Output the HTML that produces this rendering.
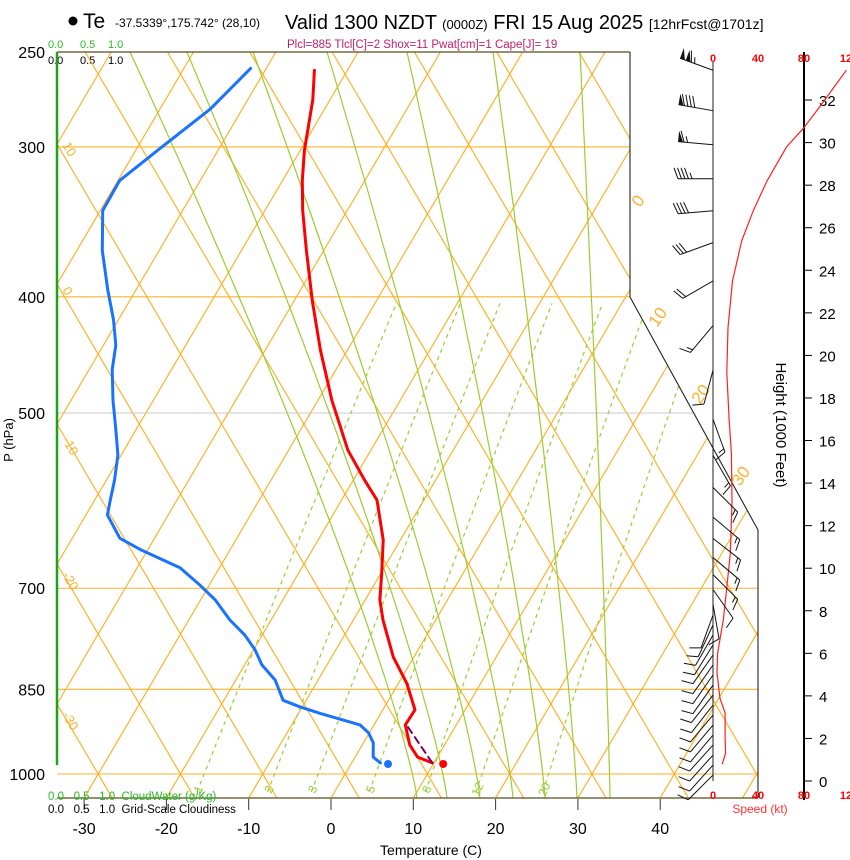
<!DOCTYPE html>
<html><head><meta charset="utf-8"><style>
html,body{margin:0;padding:0;background:#fff;}
svg{display:block;font-family:"Liberation Sans",sans-serif;}
</style></head><body>
<svg id="chart" width="850" height="860" viewBox="0 0 850 860" xmlns="http://www.w3.org/2000/svg">
<defs><clipPath id="plotclip"><polygon points="57,52 630,52 630,297 758,530 758,798 57,798"/></clipPath></defs>
<g id="header">
<circle cx="73" cy="21" r="4.5" fill="#000"/>
<text x="83" y="28" font-size="21">Te</text>
<text x="115" y="27" font-size="12">-37.5339°,175.742° (28,10)</text>
<text x="285" y="29" font-size="20">Valid 1300 NZDT <tspan font-size="13">(0000Z)</tspan> FRI 15 Aug 2025 <tspan font-size="14">[12hrFcst@1701z]</tspan></text>
<text x="287" y="48" font-size="11.5" fill="#c0206a">Plcl=885 Tlcl[C]=2 Shox=11 Pwat[cm]=1 Cape[J]= 19</text>
<text x="48" y="48" font-size="11" fill="#22bb22">0.0<tspan x="80">0.5</tspan><tspan x="108">1.0</tspan></text>
<text x="48" y="64" font-size="11" fill="#000">0.0<tspan x="80">0.5</tspan><tspan x="108">1.0</tspan></text>
</g>
<g id="grid" clip-path="url(#plotclip)"></g>
<g id="axes"></g>
<g id="profiles" clip-path="url(#plotclip)"></g>
<g id="wind"></g>
<script>
// ---- sounding data (pressure hPa, temperature C) ----
const tempP = [259,274,302,320,339,366,403,443,488,537,569,591,638,680,716,744,799,840,884,910,946,968,979];
const tempT = [-54.0,-52.1,-49.5,-47.6,-45.4,-42.1,-37.8,-33.3,-28.3,-22.8,-18.6,-15.7,-12.1,-9.9,-8.2,-6.4,-2.5,1.0,3.9,3.8,5.8,7.6,9.8];
const dewP = [258,279,301,320,339,366,395,418,439,460,488,517,542,569,591,608,636,650,673,696,716,744,766,788,811,835,868,879,890,910,924,942,968,979];
const dewT = [-61.9,-63.9,-67.2,-69.8,-69.7,-66.9,-63.4,-60.6,-58.5,-57.2,-54.9,-52.4,-50.4,-49.0,-48.1,-47.4,-44.2,-40.9,-34.8,-31.1,-28.2,-25.0,-22.1,-19.8,-17.9,-15.2,-12.8,-10.3,-7.4,-1.7,-0.1,1.2,2.2,3.5];
const surfaceP = [981];
const surfaceT = [11.2];
const surfaceTd = [4.5];
const parcelP = [914,979];
const parcelT = [4.3,9.8];
// ---- wind speed profile (height kft, speed kt) ----
const spdH = [33.4,31.7,30.7,29.8,28.2,26.8,25.4,23.5,21.3,19.2,17.0,15.4,13.1,10.7,9.1,7.6,6.0,5.1,3.9,3.2,2.1,1.3,0.8];
const spdV = [116,93,79,64,47,35,25,17,13,12,14,16,16.5,15,12,9,4,3.5,6,10.5,10.5,11,8];
// ---- wind barbs (height kft, direction deg, speed kt) ----
const barbH = [33.4,31.5,29.9,28.3,26.8,25.3,23.5,21.4,19.3,17.0,15.3,13.8,12.4,11.4,10.5,9.7,9.0,8.3,7.8,7.33,6.86,6.39,5.92,5.45,4.98,4.51,4.04,3.57,3.10,2.63,2.16,1.69,1.22,0.75,0.28];
const barbDir = [290,280,275,270,265,250,240,220,195,160,150,135,130,128,130,135,145,170,200,205,210,212,215,215,215,215,218,218,220,220,220,222,222,222,225];
const barbSpd = [115,90,65,45,38,28,18,13,12,14,16,16,16,16,15,13,10,8,8,10,12,12,12,12,10,10,10,10,12,12,12,12,12,12,12];
// ---- axes ----
const pLabels = [250,300,400,500,700,850,1000];
const tTicks = [-30,-20,-10,0,10,20,30,40];
const hTicks = [0,2,4,6,8,10,12,14,16,18,20,22,24,26,28,30,32];
const mixRatios = [1,2,3,5,8,12,20];

const NS='http://www.w3.org/2000/svg';
function yP(p){return 774-520.8*Math.log(1000/p);}
function xT(T,p){return 331+8.23*T+0.588*(798-yP(p));}
function hY(h){return 781-21.28*h;}
function sX(s){return 713+1.15*s;}
function mk(tag,attrs,parent){const e=document.createElementNS(NS,tag);for(const k in attrs)e.setAttribute(k,attrs[k]);parent.appendChild(e);return e;}
const grid=document.getElementById('grid'), axes=document.getElementById('axes'), prof=document.getElementById('profiles'), wind=document.getElementById('wind');
const ORANGE='#fdb22c', GREEN='#9acd32';

// isotherms
for(let T=-120;T<=60;T+=10){
  const x0=331+8.23*T;
  const l=mk('line',{x1:x0,y1:798,x2:x0+0.588*746,y2:52,stroke:ORANGE,'stroke-width':1.2},grid);
  
  
}
// dry adiabats (straight family)
for(let k=-6;k<=16;k++){
  const xk=345.1+82.3*k;
  const l=mk('line',{x1:xk+0.588*24,y1:798,x2:xk-0.588*722,y2:52,stroke:ORANGE,'stroke-width':1.2},grid);
  
  
}
// pressure lines
pLabels.forEach(p=>{
  if(p===250)return;
  const y=yP(p);
  const x2 = p>=500 ? 758 : 630;
  const l=mk('line',{x1:57,y1:y,x2:x2,y2:y,stroke:p===500?'#c8c8c8':ORANGE,'stroke-width':1.1},grid);
  
  
});
// moist adiabats (background guide curves)
const moistTop=[130,187,253,327,407,493,580];
const moistBot=[417,447,480,513,545,577,610];
moistTop.forEach((xt,i)=>{
  const xb=moistBot[i], pts=[];
  for(let y=798;y>=52;y-=6){
    const t=(798-y)/746;
    pts.push((xb-(xb-xt)*Math.pow(t,1.2)).toFixed(1)+','+y);
  }
  pts.push(xt+',52');
  const l=mk('polyline',{points:pts.join(' '),fill:'none',stroke:GREEN,'stroke-width':1.2},grid);
  
  
});
// mixing ratio lines
mixRatios.forEach(w=>{
  const pts=[];
  for(let p=1035;p>=400;p-=10){
    const e=w*p/(622+w), L=Math.log(e/6.112), Td=243.5*L/(17.67-L);
    pts.push(xT(Td,p).toFixed(1)+','+yP(p).toFixed(1));
  }
  const l=mk('polyline',{points:pts.join(' '),fill:'none',stroke:GREEN,'stroke-width':1.2,'stroke-dasharray':'4,4'},grid);
  
  
  const e=w*1040/(622+w), L=Math.log(e/6.112), Td=243.5*L/(17.67-L);
  const lx=xT(Td,1040)+6, ly=791;
  const t=mk('text',{x:lx,y:ly,'font-size':12,fill:GREEN,'text-anchor':'middle',transform:'rotate(-65 '+lx+' '+ly+')'},grid);
  t.textContent=w;
  
  
});

// borders
function line(x1,y1,x2,y2,st,sw,name,par){const l=mk('line',{x1,y1,x2,y2,stroke:st,'stroke-width':sw},par||axes);return l;}
line(57,52,630,52,'#5a4a1a',1.3,'plot-top-border');
line(57,798,758,798,'#5a4a1a',1.3,'x-axis-line');
const bnd=mk('polyline',{points:'630,52 630,297 758,530 758,798',fill:'none',stroke:'#222','stroke-width':1.1},axes);


line(57,52,57,765,'#1aa51a',2.5,'cloudwater-bar');

// pressure labels
pLabels.forEach(p=>{
  const t=mk('text',{x:45,y:yP(p)+6,'font-size':16,'text-anchor':'end'},axes);
  t.textContent=p;
  
  
});
const ylab=mk('text',{x:13,y:440,'font-size':13,'text-anchor':'middle',transform:'rotate(-90 13 440)'},axes);
ylab.textContent='P (hPa)';


// temperature ticks
tTicks.forEach(T=>{
  const x=331+8.23*T;
  line(x,799,x,810,'#333',1,'x-tick');
  const t=mk('text',{x:x,y:834,'font-size':16,'text-anchor':'middle'},axes);
  t.textContent=T;
  
  
});
const xlab=mk('text',{x:431,y:855,'font-size':14,'text-anchor':'middle'},axes);
xlab.textContent='Temperature (C)';


// bottom legends
const cw=mk('text',{x:48,y:800,'font-size':11.5,fill:'#22bb22'},axes);
cw.textContent='0.0   0.5   1.0  CloudWater (g/Kg)';


cw.style.whiteSpace='pre';
const gc=mk('text',{x:48,y:813,'font-size':11.5,fill:'#000'},axes);
gc.textContent='0.0   0.5   1.0  Grid-Scale Cloudiness';


gc.style.whiteSpace='pre';
// adiabat labels left and isotherm labels right
const leftLab=[['10',145],['0',290],['-10',440],['-20',575],['-30',715]];
leftLab.forEach(a=>{
  const t=mk('text',{x:62,y:a[1],'font-size':13,fill:ORANGE,transform:'rotate(60 62 '+a[1]+')'},axes);
  t.textContent=a[0];
  
  
});
const rightLab=[['0',640,208],['10',657,328],['20',700,405],['30',740,487]];
rightLab.forEach(a=>{
  const t=mk('text',{x:a[1],y:a[2],'font-size':17,fill:ORANGE,transform:'rotate(-55 '+a[1]+' '+a[2]+')'},axes);
  t.textContent=a[0];
  
  
});

// profiles
function path(P,T,stroke,w,name,dash){
  const pts=P.map((p,i)=>xT(T[i],p).toFixed(1)+','+yP(p).toFixed(1)).join(' ');
  const l=mk('polyline',{points:pts,fill:'none',stroke:stroke,'stroke-width':w,'stroke-linejoin':'round','stroke-linecap':'round'},prof);
  if(dash)l.setAttribute('stroke-dasharray',dash);
  
  
}
path(tempP,tempT,'#ff0000',3,'temperature-line');
path(dewP,dewT,'#1a73ff',3,'dewpoint-line');
path(parcelP,parcelT,'#800060',2,'parcel-line','7,5');
const sd=mk('circle',{cx:xT(surfaceT[0],surfaceP[0]),cy:yP(surfaceP[0]),r:4,fill:'#ff0000'},prof);


const sdd=mk('circle',{cx:xT(surfaceTd[0],surfaceP[0]),cy:yP(surfaceP[0]),r:4,fill:'#1a73ff'},prof);



// wind region axes
line(713,62,713,781,'#222',1,'speed-axis-zero');
line(804,52,804,800,'#000',2,'height-axis');
hTicks.forEach(h=>{
  line(804,hY(h),812,hY(h),'#000',1,'height-tick');
  const t=mk('text',{x:819,y:hY(h)+6,'font-size':15},wind);
  t.textContent=h;
  
  
});
const hl=mk('text',{x:776,y:425,'font-size':15,'text-anchor':'middle',transform:'rotate(90 776 425)'},wind);
hl.textContent='Height (1000 Feet)';


[[0,713],[40,758],[80,804],[120,846]].forEach(a=>{
  [62,799].forEach(y=>{
    const t=mk('text',{x:a[1],y:y,'font-size':11,'font-weight':'bold',fill:'#ff0000','text-anchor':'middle'},wind);
    t.textContent=a[0]===120?'12':a[0];
    
    
  });
});
const sl=mk('text',{x:760,y:813,'font-size':12,fill:'#ff3030','text-anchor':'middle'},wind);
sl.textContent='Speed (kt)';


const sp=mk('polyline',{points:spdH.map((h,i)=>sX(spdV[i]).toFixed(1)+','+hY(h).toFixed(1)).join(' '),fill:'none',stroke:'#ff2020','stroke-width':1.2},wind);


// barbs
barbH.forEach((h,i)=>{
  const g=mk('g',{},wind);
  
  
  const d=barbDir[i]*Math.PI/180, L=35;
  const ux=Math.sin(d), uy=-Math.cos(d), nx=-uy, ny=ux;
  const x0=713, y0=hY(h), x1=x0+ux*L, y1=y0+uy*L;
  mk('line',{x1:x0,y1:y0,x2:x1,y2:y1,stroke:'#111','stroke-width':1},g);
  let s=Math.round(barbSpd[i]/5)*5, pos=0;
  while(s>=50){
    const ax=x1-ux*pos, ay=y1-uy*pos, bx=x1-ux*(pos+5), by=y1-uy*(pos+5);
    mk('polygon',{points:ax+','+ay+' '+(ax+nx*11)+','+(ay+ny*11)+' '+bx+','+by,fill:'#111'},g);
    pos+=6; s-=50;
  }
  while(s>=10){
    const ax=x1-ux*pos, ay=y1-uy*pos;
    mk('line',{x1:ax,y1:ay,x2:ax+nx*11+ux*4,y2:ay+ny*11+uy*4,stroke:'#111','stroke-width':1},g);
    pos+=3.5; s-=10;
  }
  if(s>=5){
    if(pos===0)pos=3.5;
    const ax=x1-ux*pos, ay=y1-uy*pos;
    mk('line',{x1:ax,y1:ay,x2:ax+nx*6+ux*2,y2:ay+ny*6+uy*2,stroke:'#111','stroke-width':1},g);
  }
});
</script>
</svg>
</body></html>
